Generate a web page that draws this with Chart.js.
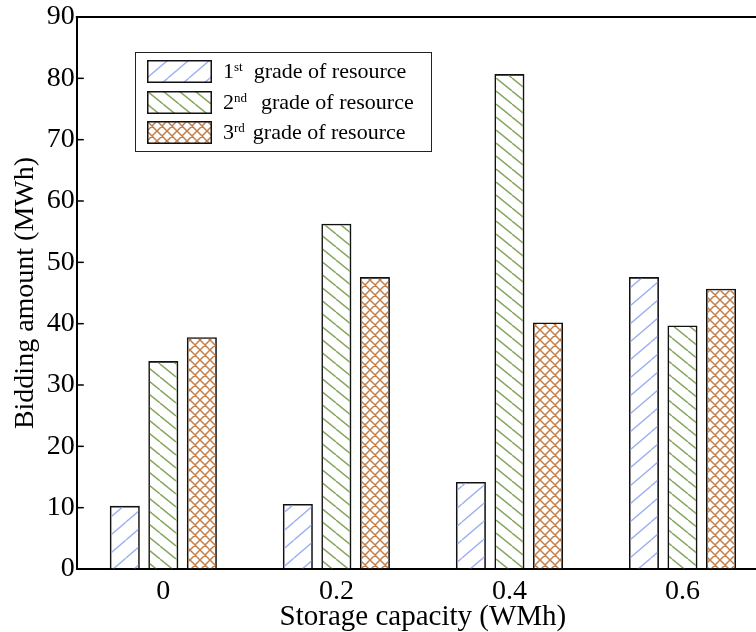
<!DOCTYPE html>
<html lang="en">
<head>
  <meta charset="UTF-8">
  <title>Bidding amount vs storage capacity</title>
  <script src="https://cdn.jsdelivr.net/npm/chart.js"></script>
</head>

<style>
  body {
    margin: 0;
    overflow: hidden;
    background: #fff;
    font-family: "Liberation Serif", "Times New Roman", serif;
  }

  .wrap {
    position: relative;
    width: 770px;
    height: 632px;
  }

  /* legend box drawn in html so the superscripts stay real text */
  .legenda {
    position: absolute;
    left: 135px;
    top: 52px;
    width: 295px;
    height: 98px;
    border: 1.5px solid #222;
    background: #fff;
  }

  .item {
    position: absolute;
    left: 11px;
    height: 24px;
    display: flex;
    align-items: center;
    font-size: 22px;
    color: #000;
    white-space: nowrap;
  }

  .item canvas {
    width: 65px;
    height: 23px;
    margin-right: 11px;
  }

  .item sup {
    font-size: 13px;
    position: relative;
    top: -4px;
  }
</style>

<body>
  <div class="wrap">
    <canvas id="grafico" width="770" height="632"></canvas>

    <div class="legenda">
      <div class="item" style="top: 6px;"><canvas id="sw0" width="65" height="23"></canvas>1<sup>st</sup><span style="margin-left: 11px;">grade of resource</span></div>
      <div class="item" style="top: 37px;"><canvas id="sw1" width="65" height="23"></canvas>2<sup>nd</sup><span style="margin-left: 14px;">grade of resource</span></div>
      <div class="item" style="top: 67px;"><canvas id="sw2" width="65" height="23"></canvas>3<sup>rd</sup><span style="margin-left: 8px;">grade of resource</span></div>
    </div>
  </div>

  <script>
    // dados
    const categories = ['0', '0.2', '0.4', '0.6'];
    const grade1 = [10.3, 10.6, 14.2, 47.6];
    const grade2 = [33.9, 56.3, 80.7, 39.7];
    const grade3 = [37.8, 47.6, 40.2, 45.7];
    const seriesNames = ['1st grade of resource', '2nd grade of resource', '3rd grade of resource'];

    const fonte = '"Liberation Serif", "Times New Roman", serif';

    // hachuras: '/' azul, '\' verde, xadrez laranja
    function hachura(tipo) {
      const c = document.createElement('canvas');
      let w, h, cor, lw;
      if (tipo === 'slash') { w = 21; h = 18; cor = '#9fb1f2'; lw = 1.4; }
      else if (tipo === 'back') { w = 16; h = 13; cor = '#86a85e'; lw = 1.5; }
      else { w = 10; h = 10; cor = '#c47f48'; lw = 1.5; }
      c.width = w;
      c.height = h;
      const g = c.getContext('2d');
      g.strokeStyle = cor;
      g.lineWidth = lw;
      g.beginPath();
      for (let k = -1; k <= 1; k++) {
        if (tipo === 'slash' || tipo === 'cross') {
          g.moveTo(k * w, h);
          g.lineTo(k * w + w, 0);
        }
        if (tipo === 'back' || tipo === 'cross') {
          g.moveTo(k * w, 0);
          g.lineTo(k * w + w, h);
        }
      }
      g.stroke();
      return c;
    }

    const tipos = ['slash', 'back', 'cross'];
    const ctx = document.getElementById('grafico').getContext('2d');
    const padroes = tipos.map(t => ctx.createPattern(hachura(t), 'repeat'));

    // amostras da legenda
    tipos.forEach((t, i) => {
      const sw = document.getElementById('sw' + i);
      const g = sw.getContext('2d');
      g.fillStyle = g.createPattern(hachura(t), 'repeat');
      g.fillRect(0, 0, sw.width, sw.height);
      g.strokeStyle = '#111';
      g.lineWidth = 1.5;
      g.strokeRect(0.75, 0.75, sw.width - 1.5, sw.height - 1.5);
    });

    // borda de cima e ticks para dentro no eixo y
    const moldura = {
      id: 'moldura',
      afterDraw(chart) {
        const a = chart.chartArea;
        const y = chart.scales.y;
        const c = chart.ctx;
        c.save();
        c.strokeStyle = '#000';
        c.lineWidth = 2;
        c.beginPath();
        c.moveTo(a.left - 1, a.top);
        c.lineTo(a.right, a.top);
        c.stroke();
        c.lineWidth = 1.5;
        y.ticks.forEach(t => {
          const py = y.getPixelForValue(t.value);
          c.beginPath();
          c.moveTo(a.left, py);
          c.lineTo(a.left + 7, py);
          c.stroke();
        });
        c.restore();
      }
    };

    const valores = [grade1, grade2, grade3];

    new Chart(ctx, {
      type: 'bar',
      data: {
        labels: categories,
        datasets: valores.map((v, i) => ({
          label: seriesNames[i],
          data: v,
          backgroundColor: padroes[i],
          borderColor: '#111',
          borderWidth: 1.6,
          categoryPercentage: 0.668,
          barPercentage: 0.78
        }))
      },
      options: {
        responsive: false,
        animation: false,
        devicePixelRatio: 1,
        layout: {
          padding: { left: 10, top: 17, right: 1, bottom: 0 }
        },
        plugins: {
          legend: { display: false },
          tooltip: { enabled: false }
        },
        scales: {
          x: {
            grid: { display: true, drawOnChartArea: false, drawTicks: false },
            border: { display: true, color: '#000', width: 2 },
            ticks: {
              color: '#000',
              padding: 9,
              font: { family: fonte, size: 28, lineHeight: 1 }
            },
            title: {
              display: true,
              text: 'Storage capacity (WMh)',
              color: '#000',
              padding: { top: -12, bottom: 0 },
              font: { family: fonte, size: 29, lineHeight: 1 }
            }
          },
          y: {
            min: 0,
            max: 90,
            grid: { display: true, drawOnChartArea: false, drawTicks: false },
            border: { display: true, color: '#000', width: 2 },
            ticks: {
              stepSize: 10,
              color: '#000',
              padding: 2,
              font: { family: fonte, size: 28, lineHeight: 1 }
            },
            title: {
              display: true,
              text: 'Bidding amount (MWh)',
              color: '#000',
              padding: { top: 0, bottom: 4 },
              font: { family: fonte, size: 28, lineHeight: 1.1 }
            }
          }
        }
      },
      plugins: [moldura]
    });
  </script>
</body>
</html>
